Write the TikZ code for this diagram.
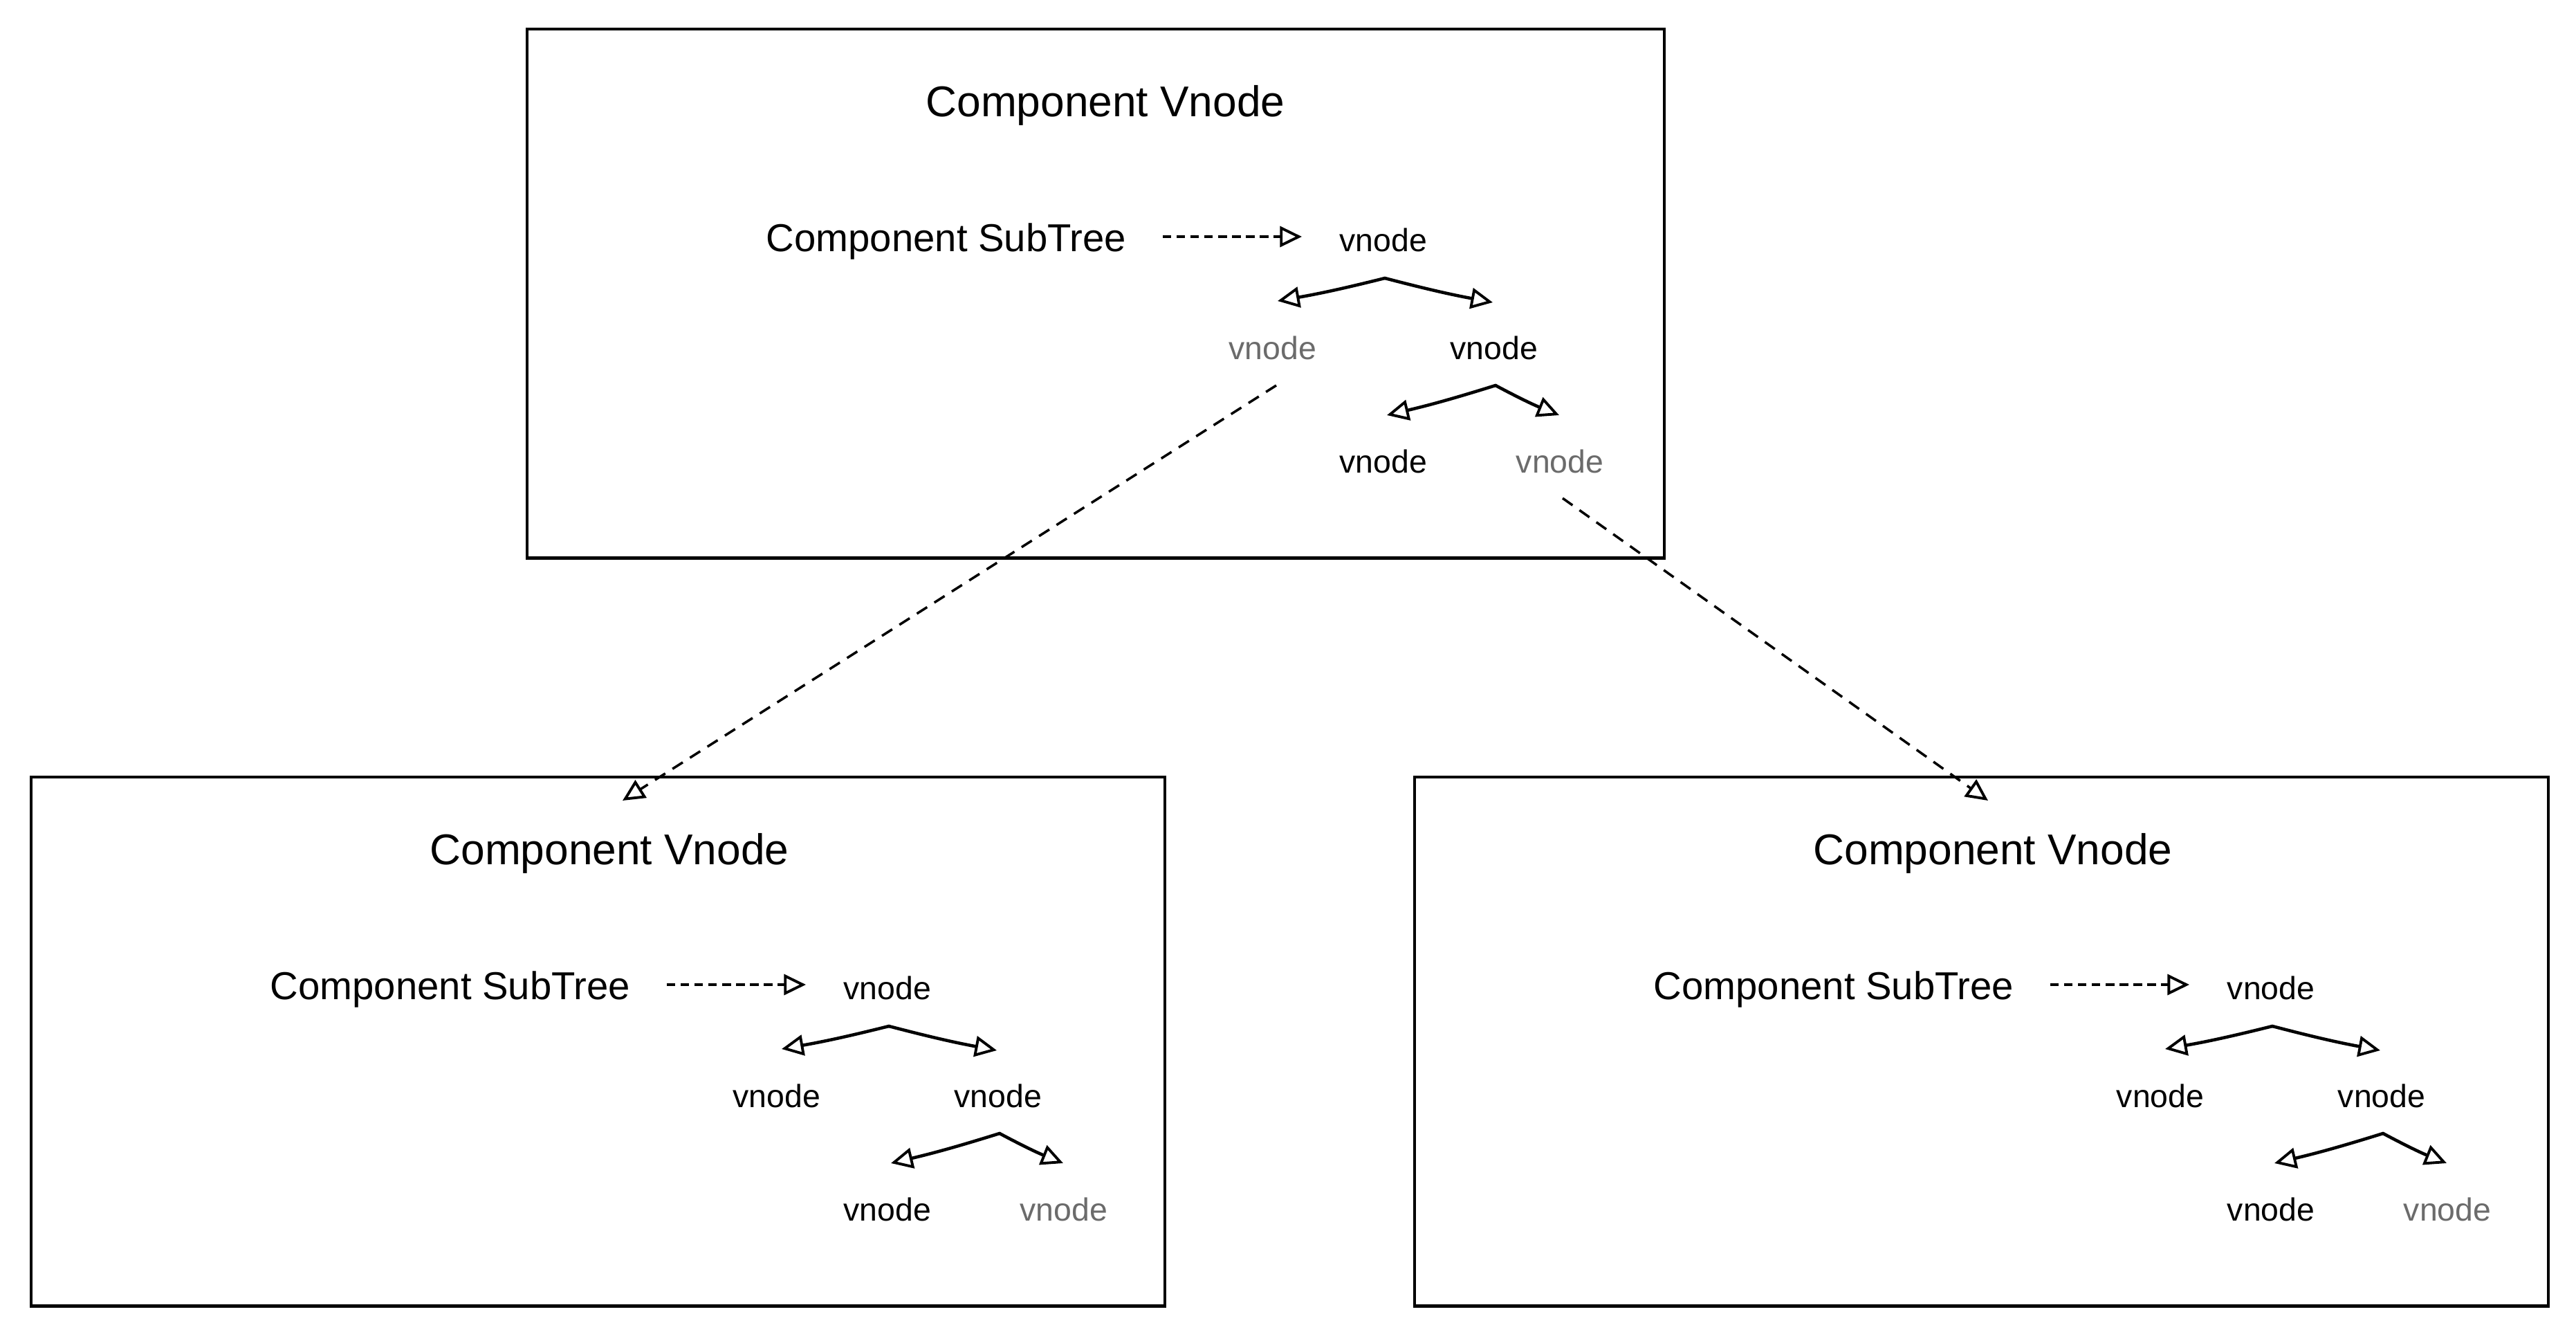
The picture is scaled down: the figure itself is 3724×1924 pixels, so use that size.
\documentclass[tikz,border=0pt]{standalone}
\usepackage{fontspec}
\setmainfont{Liberation Sans}
\usetikzlibrary{arrows.meta,calc}
\definecolor{vgrey}{HTML}{6B6B6B}
\tikzset{
  frame/.style={draw, line width=1.2pt, inner sep=0pt, anchor=north west,
                minimum height=7.64cm},
  titletext/.style={font=\fontsize{17.7}{20}\selectfont, inner sep=0pt},
  subtext/.style={font=\fontsize{16}{19}\selectfont, inner sep=0pt},
  vn/.style={font=\fontsize{13.2}{16}\selectfont, inner sep=0pt},
  ghost/.style={text=vgrey},
  plain/.style={},
  treearrow/.style={line width=1.3pt, line cap=round,
                    -{Triangle[open,length=9pt,width=8.5pt,line width=1.1pt]}},
  subarrow/.style={line width=1.1pt, dash pattern=on 3.5pt off 2.2pt,
                   -{Triangle[open,length=9pt,width=8.5pt,line width=1.1pt]}},
  linkarrow/.style={line width=1pt, dash pattern=on 5pt off 3.5pt,
                    -{Triangle[open,length=9pt,width=8.5pt,line width=1.1pt]}},
}
% #1 prefix, #2 x, #3 y, #4 style of left child, #5 box width
\newcommand\compbox[5]{%
  \begin{scope}[shift={(#2,#3)}]
    \node[frame, minimum width=#5] (#1box) at (0,0) {};
    \node[titletext] (#1title) at (838,112) {Component Vnode};
    \node[subtext] (#1sub) at (608,309) {Component SubTree};
    \node[vn] (#1root) at (1240,307) {vnode};
    \node[vn,#4] (#1lc) at (1080,463) {vnode};
    \node[vn] (#1rc) at (1400,463) {vnode};
    \node[vn] (#1bl) at (1240,627) {vnode};
    \node[vn,ghost] (#1br) at (1495,627) {vnode};
    \draw[subarrow] ($(#1sub)+(313,-7)$) -- ($(#1root)+(-118,-5)$);
    \draw[treearrow] ($(#1root)+(2,55)$) to[bend left=2] ($(#1lc)+(7,-68)$);
    \draw[treearrow] ($(#1root)+(2,55)$) to[bend right=2] ($(#1rc)+(-2,-66)$);
    \draw[treearrow] ($(#1rc)+(2,54)$) to[bend left=2] ($(#1bl)+(5,-67)$);
    \draw[treearrow] ($(#1rc)+(2,54)$) to[bend right=3] ($(#1br)+(-1,-67)$);
  \end{scope}}
\begin{document}
\begin{tikzpicture}[x=0.01cm, y=-0.01cm]
  \useasboundingbox[fill=white] (0,0) rectangle (3724,1924);
  \compbox{T}{760}{40}{ghost}{16.43cm}
  \compbox{L}{43}{1121}{plain}{16.38cm}
  \compbox{R}{2043}{1121}{plain}{16.38cm}
  \draw[linkarrow] ($(Tlc)+(5,54)$) -- ($(Ltitle)+(19,-76)$);
  \draw[linkarrow] ($(Tbr)+(4,53)$) -- ($(Rtitle)+(-7,-76)$);
\end{tikzpicture}
\end{document}
